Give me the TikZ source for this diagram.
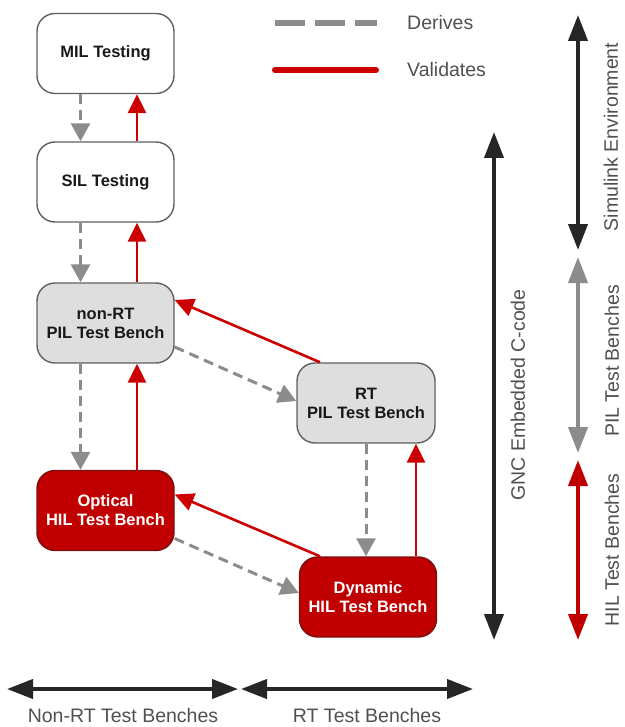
\documentclass[tikz,border=0pt]{standalone}
\usepackage{fontspec}
\setmainfont{Liberation Sans}
\usetikzlibrary{arrows.meta}
\definecolor{boxred}{HTML}{C00000}
\definecolor{boxredline}{HTML}{7A1010}
\definecolor{boxgray}{HTML}{DEDEDE}
\definecolor{boxline}{HTML}{606060}
\definecolor{dashgray}{HTML}{8C8C8C}
\definecolor{linered}{HTML}{CC0000}
\definecolor{labelgray}{HTML}{505050}
\definecolor{darkline}{HTML}{262626}
\tikzset{
  testbox/.style={rounded corners=18pt, minimum width=137pt, minimum height=80pt,
    line width=1.4pt, align=center, inner sep=0pt,
    font=\bfseries\fontsize{16.5}{19}\selectfont},
  whitebox/.style={testbox, draw=boxline, fill=white, text=black!90},
  graybox/.style={testbox, draw=boxline, fill=boxgray, text=black!90},
  redbox/.style={testbox, draw=boxredline, fill=boxred, text=white},
  derives/.style={draw=dashgray, line width=3pt, dash pattern=on 10pt off 6pt,
    -{Triangle[length=18pt,width=19pt]}},
  validates/.style={draw=linered, line width=2.6pt,
    -{Triangle[length=19pt,width=18pt]}},
  rangearrow/.style={line width=4pt, {Triangle[length=26pt,width=19pt]}-{Triangle[length=26pt,width=19pt]}},
  lbl/.style={text=labelgray, font=\fontsize{19.5}{22}\selectfont, inner sep=0pt},
}
\begin{document}
\begin{tikzpicture}[x=1pt,y=-1pt]
\useasboundingbox (0,0) rectangle (624,727);

% boxes
\node[whitebox] (mil) at (105.5,53.5) {MIL Testing};
\node[whitebox] (sil) at (105.5,182) {SIL Testing};
\node[graybox] (nonrt) at (105.5,323) {non-RT\\PIL Test Bench};
\node[graybox, minimum width=138pt] (rt) at (366,403) {RT\\PIL Test Bench};
\node[redbox] (opt) at (105.5,510.5) {Optical\\HIL Test Bench};
\node[redbox] (dyn) at (368,597) {Dynamic\\HIL Test Bench};

% vertical connectors, left column
\draw[derives] ([xshift=-25pt]mil.south) -- ([xshift=-25pt]sil.north);
\draw[validates] ([xshift=31.5pt]sil.north) -- ([xshift=31.5pt]mil.south);
\draw[derives] ([xshift=-25pt]sil.south) -- ([xshift=-25pt]nonrt.north);
\draw[validates] ([xshift=31.5pt]nonrt.north) -- ([xshift=31.5pt]sil.south);
\draw[derives] ([xshift=-25pt]nonrt.south) -- ([xshift=-25pt]opt.north);
\draw[validates] ([xshift=31.5pt]opt.north) -- ([xshift=31.5pt]nonrt.south);

% right column
\draw[derives] (rt.south) -- (rt.south |- dyn.north);
\draw[validates] ([xshift=48pt]dyn.north) -- ([xshift=48pt]dyn.north |- rt.south);

% diagonals
\draw[derives] ([yshift=-24pt]nonrt.east) -- ([yshift=2pt]rt.west);
\draw[validates] ([xshift=-46pt]rt.north) -- ([yshift=23pt]nonrt.east);
\draw[derives] ([yshift=-28pt]opt.east) -- ([yshift=4pt]dyn.west);
\draw[validates] ([xshift=-48pt]dyn.north) -- ([yshift=16pt]opt.east);

% legend
\coordinate (dA) at (275,23);
\coordinate (dB) at (377,23);
\coordinate (vA) at (275,70);
\coordinate (vB) at (376,70);
\draw[dashgray, line width=6pt, dash pattern=on 30pt off 10pt] (dA) -- (dB);
\draw[linered, line width=6pt, line cap=round] (vA) -- (vB);
\node[lbl, anchor=west] (lderives) at (407,23) {Derives};
\node[lbl, anchor=west] (lvalidates) at (407,70) {Validates};

% right range arrows
\coordinate (simT) at (578,15);
\coordinate (simB) at (578,250);
\coordinate (pilT) at (578,257);
\coordinate (pilB) at (578,453);
\coordinate (hilT) at (578,460);
\coordinate (hilB) at (578,640);
\coordinate (gncT) at (494,132);
\coordinate (gncB) at (494,640);
\draw[rangearrow, draw=darkline] (simT) -- (simB);
\draw[rangearrow, draw=darkline] (gncT) -- (gncB);
\draw[rangearrow, draw=dashgray] (pilT) -- (pilB);
\draw[rangearrow, draw=boxred] (hilT) -- (hilB);
\node[lbl, rotate=90] (lsim) at (611,137) {Simulink Environment};
\node[lbl, rotate=90] (lgnc) at (518,395) {GNC Embedded C-code};
\node[lbl, rotate=90] (lpil) at (612,361) {PIL Test Benches};
\node[lbl, rotate=90] (lhil) at (612,550) {HIL Test Benches};

% bottom range arrows
\coordinate (nrL) at (7,689);
\coordinate (nrR) at (238,689);
\coordinate (rtL) at (241,689);
\coordinate (rtR) at (473,689);
\draw[rangearrow, draw=darkline] (nrL) -- (nrR);
\draw[rangearrow, draw=darkline] (rtL) -- (rtR);
\node[lbl] (lnonrt) at (123,716) {Non-RT Test Benches};
\node[lbl] (lrt) at (367,716) {RT Test Benches};
\end{tikzpicture}
\end{document}
